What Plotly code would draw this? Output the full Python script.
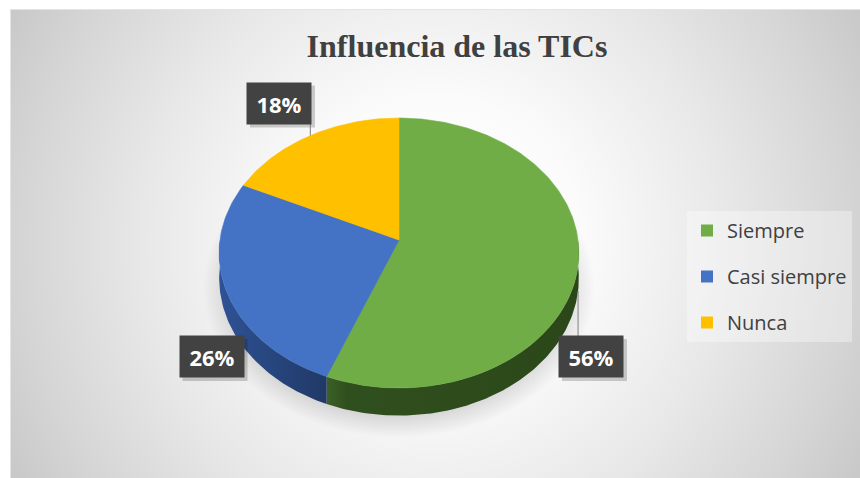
import math
import base64
import plotly.graph_objects as go

# ---------------- data ----------------
categories = ["Siempre", "Casi siempre", "Nunca"]
values = [56, 26, 18]
title_text = "Influencia de las TICs"

# ---------------- styles / layout ----------------
top_colors = ["#70AD47", "#4472C4", "#FFC000"]
side_scales = [
    [[0, "#3b6126"], [0.08, "#304f1e"], [1, "#2b4719"]],
    [[0, "#2e5295"], [1, "#203966"]],
    [[0, "#c79500"], [1, "#a67c00"]],
]
label_pos = [(591, 356.5), (211.5, 356.5), (279, 103)]   # label box centres (px)
show_leader = [True, False, True]
BOX_W, BOX_H = 64, 41

W, H = 860, 478
CX, CY = 399, 240          # projected pie centre
RX, RY = 179, 133.7        # radii of the tilted disc
K = 0.0963                 # perspective factor
DEPTH = 25                 # thickness of the disc


def proj(deg, drop=0.0, scale=1.0, cx=CX, cy=CY):
    a = math.radians(deg)
    u, v = math.cos(a), math.sin(a)
    s = 1.0 / (1.0 + K * v)
    return cx + RX * scale * u * s, cy - RY * scale * v * s + drop * s


def arc(hi, lo, drop=0.0, step=1.0):
    n = max(2, int(math.ceil((hi - lo) / step)) + 1)
    pts = [proj(hi - (hi - lo) * i / (n - 1), drop) for i in range(n)]
    return pts


total = sum(values)
bounds = []
start = 90.0
for v in values:
    end = start - 360.0 * v / total
    bounds.append((start, end))
    start = end

fig = go.Figure()

# soft shadow under the disc
sh = [proj(360 * i / 180, DEPTH + 8, 1.09) for i in range(181)]
fig.add_trace(go.Scatter(
    x=[p[0] for p in sh], y=[p[1] for p in sh], mode="lines", fill="toself",
    line=dict(width=0), fillcolor="rgba(0,0,0,0.12)",
    fillgradient=dict(type="radial", colorscale=[[0, "rgba(0,0,0,0.22)"], [0.8, "rgba(0,0,0,0.18)"], [1, "rgba(0,0,0,0)"]]),
    hoverinfo="skip", showlegend=False))


def front_ranges(hi, lo):
    res = []
    for k in (-360, 0, 360):
        a, b = -180 + k, 0 + k
        h, l = min(hi, b), max(lo, a)
        if h > l:
            res.append((h, l))
    return res


# sides (front part of the disc)
for i, (hi, lo) in enumerate(bounds):
    for h, l in front_ranges(hi, lo):
        top = arc(h, l)
        bot = arc(h, l, DEPTH)[::-1]
        pts = top + bot + [top[0]]
        fig.add_trace(go.Scatter(
            x=[p[0] for p in pts], y=[p[1] for p in pts], mode="lines", fill="toself",
            line=dict(width=0), fillcolor=side_scales[i][-1][1],
            fillgradient=dict(type="horizontal", colorscale=side_scales[i]),
            hoverinfo="skip", showlegend=False))

# top faces
for i, (hi, lo) in enumerate(bounds):
    pts = [(CX, CY)] + arc(hi, lo) + [(CX, CY)]
    fig.add_trace(go.Scatter(
        x=[p[0] for p in pts], y=[p[1] for p in pts], mode="lines", fill="toself",
        line=dict(width=0.6, color=top_colors[i]), fillcolor=top_colors[i],
        name=categories[i], hoverinfo="name", showlegend=False))

# legend entries
for i, c in enumerate(categories):
    fig.add_trace(go.Scatter(
        x=[None], y=[None], mode="markers", name=c, legendgroup=c,
        marker=dict(symbol="square", size=13, color=top_colors[i], line=dict(width=0))))

# labels, leaders, box shadows
shapes = []
annotations = []
for i, (hi, lo) in enumerate(bounds):
    mid = (hi + lo) / 2
    bx, by = label_pos[i]
    pct = round(100 * values[i] / total)
    shapes.append(dict(type="rect", xref="x", yref="y",
                       x0=bx - BOX_W / 2 + 3, x1=bx + BOX_W / 2 + 4,
                       y0=by - BOX_H / 2 + 3, y1=by + BOX_H / 2 + 4,
                       fillcolor="rgba(0,0,0,0.18)", line=dict(width=0), layer="above"))
    if show_leader[i]:
        front = math.sin(math.radians(mid)) < 0
        ax, ay = proj(mid, DEPTH if front else 0)
        sx = min(max(ax, bx - BOX_W / 2), bx + BOX_W / 2)
        sy = by - BOX_H / 2 if ay < by else by + BOX_H / 2
        if ay < by - BOX_H / 2 or ay > by + BOX_H / 2:
            shapes.append(dict(type="line", xref="x", yref="y", x0=sx, y0=sy, x1=ax, y1=ay,
                               line=dict(color="#7f7f7f", width=1), layer="above"))
    annotations.append(dict(
        x=bx, y=by, xref="x", yref="y", text=f"<b>{pct}%</b>", showarrow=False,
        width=BOX_W, height=BOX_H, bgcolor="#424242", borderpad=0,
        font=dict(family="Open Sans, Noto Sans, sans-serif", size=22, color="white"),
        xanchor="center", yanchor="middle", align="center", valign="middle"))

# background (radial gradient chart area)
svg = f"""<svg xmlns='http://www.w3.org/2000/svg' width='{W}' height='{H}' viewBox='0 0 {W} {H}' preserveAspectRatio='none'>
<defs><radialGradient id='g' gradientUnits='userSpaceOnUse' cx='435' cy='243' r='486'>
<stop offset='0' stop-color='#ffffff'/><stop offset='0.3' stop-color='#fbfbfb'/>
<stop offset='0.6' stop-color='#e8e8e8'/><stop offset='0.85' stop-color='#d5d5d5'/>
<stop offset='1' stop-color='#c8c8c8'/></radialGradient></defs>
<rect x='0' y='0' width='{W}' height='{H}' fill='#ffffff'/>
<rect x='10.5' y='9.5' width='{W}' height='{H}' fill='url(#g)' stroke='#e4e4e4' stroke-width='1'/>
</svg>"""
src = "data:image/svg+xml;base64," + base64.b64encode(svg.encode()).decode()

fig.update_layout(
    width=W, height=H,
    margin=dict(l=0, r=0, t=0, b=0),
    paper_bgcolor="white", plot_bgcolor="rgba(0,0,0,0)",
    images=[dict(source=src, xref="paper", yref="paper", x=0, y=1, sizex=1, sizey=1,
                 sizing="stretch", layer="below", xanchor="left", yanchor="top")],
    xaxis=dict(range=[0, W], visible=False, fixedrange=True),
    yaxis=dict(range=[H, 0], visible=False, fixedrange=True),
    title=dict(text=title_text, x=457 / W, y=1 - 46 / H, xanchor="center", yanchor="middle",
               font=dict(family="Liberation Serif, Times New Roman, serif", size=32,
                         color="#404040", weight=700)),
    legend=dict(x=687 / W, y=1 - 211 / H, xanchor="left", yanchor="top",
                bgcolor="rgba(255,255,255,0.35)", borderwidth=0,
                font=dict(family="Open Sans, Noto Sans, sans-serif", size=20, color="#404040"),
                tracegroupgap=17, traceorder="grouped", itemsizing="constant"),
    shapes=shapes, annotations=annotations,
    showlegend=True,
)

fig.write_html("out.html", config={"displayModeBar": False},
               post_script="document.body.style.margin='0px';document.body.style.overflow='hidden';")
